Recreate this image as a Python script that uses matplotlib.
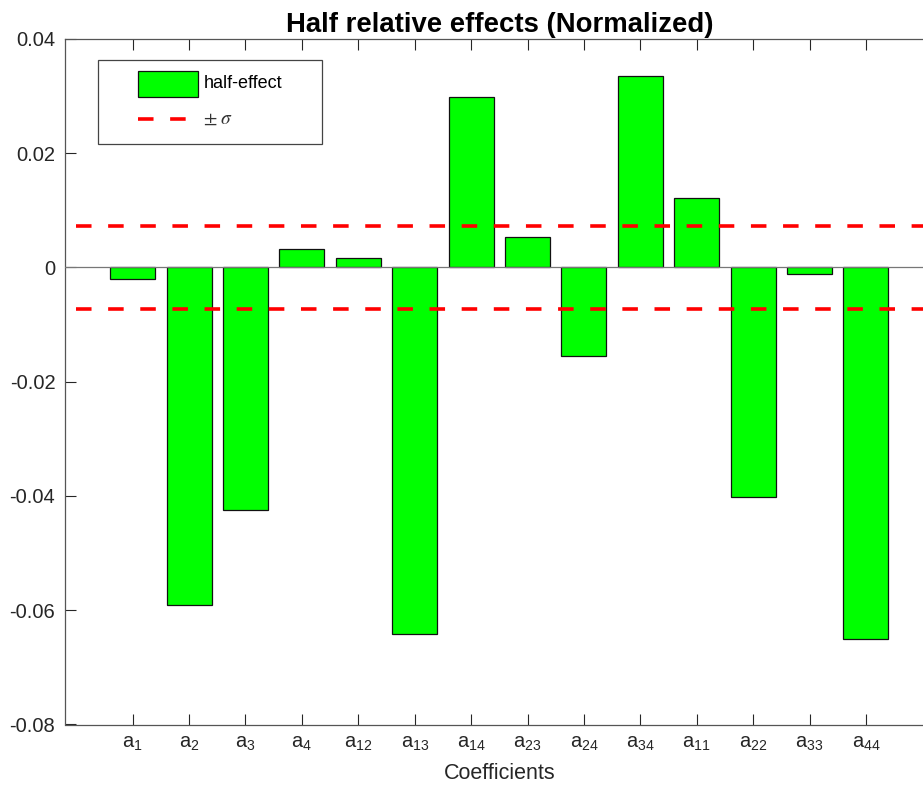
import matplotlib
matplotlib.use("Agg")
import matplotlib.pyplot as plt
from matplotlib.lines import Line2D
from matplotlib.patches import Rectangle

plt.rcParams['font.family'] = ['Liberation Sans', 'DejaVu Sans']
plt.rcParams['mathtext.fontset'] = 'stix'

# Coefficient names (subscripts) and their normalized half effects
coef_subscripts = ["1", "2", "3", "4", "12", "13", "14", "23", "24", "34", "11", "22", "33", "44"]
half_effect = [-0.0021, -0.0591, -0.0425, 0.0032, 0.0017, -0.0642, 0.0298,
               0.0053, -0.0155, 0.0336, 0.0122, -0.0401, -0.0012, -0.0650]
sigma = 0.0072
y_ticks = [-0.08, -0.06, -0.04, -0.02, 0, 0.02, 0.04]
y_tick_labels = ["-0.08", "-0.06", "-0.04", "-0.02", "0", "0.02", "0.04"]
legend_labels = ["half-effect", r"$\pm\;\sigma$"]

W, H = 923, 786
axis_color = "#262626"
bar_color = "#00ff00"
bar_edge = "#111111"
sigma_color = "#ff0000"
sigma_dashes = (4.3, 4.6)

fig = plt.figure(figsize=(W / 100, H / 100), dpi=100)
ax = fig.add_axes([65 / W, 61.5 / H, 868.6 / W, 685.5 / H])

x = list(range(1, len(half_effect) + 1))
ax.bar(x, half_effect, width=0.8, color=bar_color, edgecolor=bar_edge,
       linewidth=0.9, zorder=2)

# zero baseline
ax.axhline(0, color="#777777", linewidth=0.9, zorder=3)

# +/- sigma levels
for s in (sigma, -sigma):
    ax.plot([0, 16], [s, s], color=sigma_color, linewidth=2.6,
            dashes=sigma_dashes, zorder=4)

ax.set_xlim(-0.2, 15.2)
ax.set_ylim(-0.08, 0.04)
ax.set_xticks(x)
ax.set_xticklabels([r"$\mathregular{a_{%s}}$" % s for s in coef_subscripts])
ax.set_yticks(y_ticks)
ax.set_yticklabels(y_tick_labels)

ax.tick_params(axis="both", direction="in", length=8, width=0.8,
               colors=axis_color, labelsize=14.5, top=True, right=True)
ax.tick_params(axis="x", pad=7)
ax.tick_params(axis="y", pad=7)
for sp in ax.spines.values():
    sp.set_color("#555555")
    sp.set_linewidth(0.9)

ax.set_xlabel("Coefficients", fontsize=15.5, color=axis_color, labelpad=7)
ax.set_title("Half relative effects (Normalized)", fontsize=19.8,
             fontweight="bold", color="black", pad=5)


# legend box, placed in figure pixel coordinates
def fx(px):
    return px / W


def fy(py):
    return 1 - py / H


frame = Rectangle((fx(98), fy(144)), fx(322) - fx(98), fy(60) - fy(144),
                  transform=fig.transFigure, facecolor="white",
                  edgecolor="#444444", linewidth=0.9, zorder=10)
fig.add_artist(frame)
swatch = Rectangle((fx(138), fy(97)), fx(198) - fx(138), fy(71) - fy(97),
                   transform=fig.transFigure, facecolor=bar_color,
                   edgecolor=bar_edge, linewidth=0.9, zorder=11)
fig.add_artist(swatch)
sample = Line2D([fx(138), fx(186)], [fy(119), fy(119)],
                transform=fig.transFigure, color=sigma_color, linewidth=2.6,
                dashes=sigma_dashes, zorder=11)
fig.add_artist(sample)
fig.text(fx(204), fy(84), legend_labels[0], fontsize=13, va="center",
         ha="left", color="black", zorder=12)
fig.text(fx(203), fy(119), legend_labels[1], fontsize=14, va="center",
         ha="left", color="#333333", zorder=12)

fig.savefig("out.png", dpi=100, facecolor="white")
